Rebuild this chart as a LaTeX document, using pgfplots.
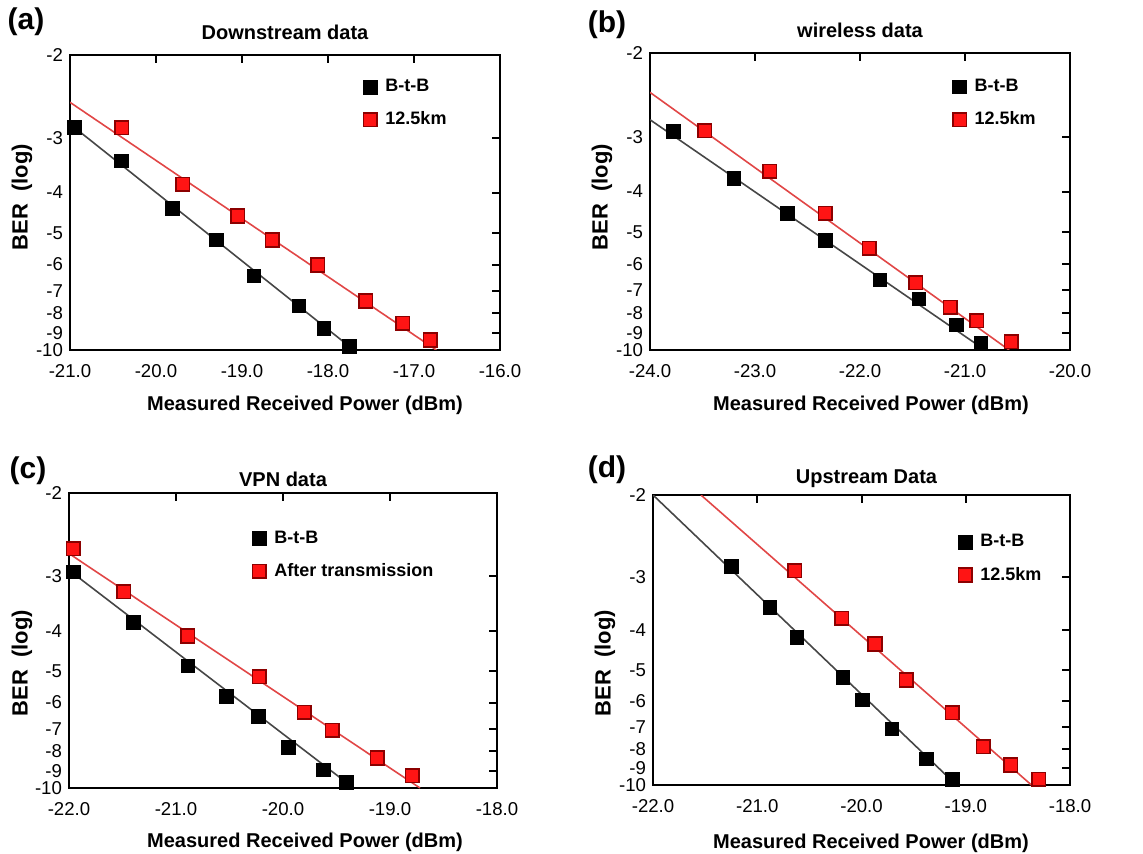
\documentclass[border=0pt]{standalone}
\usepackage{fontspec}
\setmainfont{Liberation Sans}
\usepackage{pgfplots}
\pgfplotsset{compat=1.18}
\definecolor{lred}{RGB}{225,70,70}
\definecolor{lgray}{RGB}{70,70,70}
\definecolor{mred}{RGB}{255,20,20}
\definecolor{dred}{RGB}{140,0,0}
\pgfplotsset{
 berax/.style={
  scale only axis,
  /pgf/number format/assume math mode=true,
  ymin=-16.071, ymax=-7.333,
  ytick={-16.071,-15.560,-14.982,-14.318,-13.540,-12.598,-11.409,-9.800,-7.333},
  yticklabels={-10,-9,-8,-7,-6,-5,-4,-3,-2},
  xtick distance=1,
  xticklabel style={/pgf/number format/.cd, fixed, fixed zerofill, precision=1, /tikz/yshift=-3.5pt},
  tick label style={font=\fontsize{9.3}{10}\selectfont},
  xtick pos=right, xticklabel pos=left, ytick pos=right, yticklabel pos=left,
  tick align=inside, major tick length=4pt,
  every tick/.style={black, line width=1pt},
  axis line style={line width=1.4pt},
  title style={font=\fontsize{10}{11}\selectfont\bfseries},
  xlabel style={font=\fontsize{10}{12}\selectfont\bfseries},
  ylabel style={font=\fontsize{11}{12}\selectfont\bfseries},
  legend style={draw=none, fill=none, inner sep=0pt, font=\fontsize{9}{10}\selectfont\bfseries, row sep=4.5pt, anchor=west},
  legend cell align=left,
  legend image code/.code={\draw[##1] plot coordinates {(0pt,0pt)}; \path[draw=none,fill=none] (0pt,0pt) -- (5.5pt,0pt);},
 },
 bk/.style={only marks, mark=square*, mark size=3.4pt, mark options={fill=black, draw=black}},
 rd/.style={only marks, mark=square*, mark size=3.4pt, mark options={fill=mred, draw=dred, line width=0.8pt}},
 bl/.style={lgray, line width=0.8pt, no marks, forget plot},
 rl/.style={lred, line width=0.8pt, no marks, forget plot},
}
\begin{document}
\begin{tikzpicture}
\useasboundingbox (0,0) rectangle (571.5pt,-427pt);
% (a)
\begin{axis}[berax, at={(35pt,-175pt)}, anchor=south west, width=215pt, height=147.5pt,
  xmin=-21, xmax=-16,
  title={Downstream data}, title style={at={(axis description cs:0.5,1)}, anchor=center, yshift=5.5pt},
  xlabel={Measured Received Power (dBm)}, xlabel style={at={([xshift=10pt,yshift=-27.5pt]axis description cs:0.5,0)}, anchor=center},
  ylabel={BER\ \ (log)}, ylabel style={at={([xshift=-24pt,yshift=2.75pt]axis description cs:0,0.5)}, anchor=center, rotate=0},
  legend style={at={(0.682,0.835)}}]
\addplot[bl] coordinates {(-21.0,-9.377) (-17.70,-16.071)};
\addplot[rl] coordinates {(-21.0,-8.735) (-16.74,-16.071)};
\addplot[bk] coordinates {(-20.95,-9.475) (-20.40,-10.473) (-19.81,-11.875) (-19.30,-12.813) (-18.86,-13.879) (-18.34,-14.768) (-18.05,-15.429) (-17.75,-15.972)};
\addlegendentry{B-t-B}
\addplot[rd] coordinates {(-20.40,-9.485) (-19.69,-11.164) (-19.05,-12.102) (-18.65,-12.813) (-18.12,-13.553) (-17.56,-14.620) (-17.13,-15.281) (-16.81,-15.775)};
\addlegendentry{12.5km}
\end{axis}
% (b)
\begin{axis}[berax, at={(325pt,-175pt)}, anchor=south west, width=210pt, height=148.5pt,
  xmin=-24, xmax=-20,
  title={wireless data}, title style={at={(axis description cs:0.5,1)}, anchor=center, yshift=5.5pt},
  xlabel={Measured Received Power (dBm)}, xlabel style={at={([xshift=5.5pt,yshift=-27.5pt]axis description cs:0.5,0)}, anchor=center},
  ylabel={BER\ \ (log)}, ylabel style={at={([xshift=-24pt,yshift=2.25pt]axis description cs:0,0.5)}, anchor=center, rotate=0},
  legend style={at={(0.72,0.830)}}]
\addplot[bl] coordinates {(-24.0,-9.297) (-20.81,-16.071)};
\addplot[rl] coordinates {(-24.0,-8.492) (-20.58,-16.071)};
\addplot[bk] coordinates {(-23.78,-9.640) (-23.20,-11.015) (-22.69,-12.046) (-22.33,-12.851) (-21.81,-14.009) (-21.44,-14.569) (-21.08,-15.335) (-20.85,-15.875)};
\addlegendentry{B-t-B}
\addplot[rd] coordinates {(-23.48,-9.621) (-22.86,-10.818) (-22.33,-12.046) (-21.91,-13.077) (-21.47,-14.088) (-21.14,-14.814) (-20.89,-15.207) (-20.56,-15.826)};
\addlegendentry{12.5km}
\end{axis}
% (c)
\begin{axis}[berax, at={(34.5pt,-394pt)}, anchor=south west, width=214pt, height=147.5pt,
  xmin=-22, xmax=-18,
  title={VPN data}, title style={at={(axis description cs:0.5,1)}, anchor=center, yshift=1pt},
  xlabel={Measured Received Power (dBm)}, xlabel style={at={([xshift=11pt,yshift=-27pt]axis description cs:0.5,0)}, anchor=center},
  ylabel={BER\ \ (log)}, ylabel style={at={([xshift=-23.5pt,yshift=-11.25pt]axis description cs:0,0.5)}, anchor=center, rotate=0},
  legend style={at={(0.428,0.790)}}]
\addplot[bl] coordinates {(-22.0,-9.619) (-19.34,-16.071)};
\addplot[rl] coordinates {(-22.0,-9.126) (-18.72,-16.071)};
\addplot[bk] coordinates {(-21.96,-9.668) (-21.40,-11.165) (-20.89,-12.456) (-20.53,-13.362) (-20.23,-13.953) (-19.95,-14.869) (-19.62,-15.529) (-19.41,-15.904)};
\addlegendentry{B-t-B}
\addplot[rd] coordinates {(-21.96,-8.978) (-21.49,-10.259) (-20.89,-11.569) (-20.22,-12.771) (-19.80,-13.825) (-19.54,-14.367) (-19.12,-15.184) (-18.79,-15.707)};
\addlegendentry{After transmission}
\end{axis}
% (d)
\begin{axis}[berax, at={(326.5pt,-392.5pt)}, anchor=south west, width=208.5pt, height=145pt,
  xmin=-22, xmax=-18,
  title={Upstream Data}, title style={at={([xshift=2.5pt]axis description cs:0.5,1)}, anchor=center, yshift=2pt},
  xlabel={Measured Received Power (dBm)}, xlabel style={at={([xshift=4.75pt,yshift=-29pt]axis description cs:0.5,0)}, anchor=center},
  ylabel={BER\ \ (log)}, ylabel style={at={([xshift=-24pt,yshift=-11.5pt]axis description cs:0,0.5)}, anchor=center, rotate=0},
  legend style={at={(0.732,0.780)}}]
\addplot[bl] coordinates {(-22.0,-7.333) (-19.09,-16.071)};
\addplot[rl] coordinates {(-21.54,-7.333) (-18.37,-16.071)};
\addplot[bk] coordinates {(-21.25,-9.492) (-20.88,-10.718) (-20.62,-11.632) (-20.18,-12.837) (-19.99,-13.510) (-19.71,-14.384) (-19.38,-15.288) (-19.13,-15.900)};
\addlegendentry{B-t-B}
\addplot[rd] coordinates {(-20.64,-9.613) (-20.19,-11.049) (-19.87,-11.823) (-19.57,-12.907) (-19.13,-13.892) (-18.83,-14.916) (-18.57,-15.468) (-18.30,-15.900)};
\addlegendentry{12.5km}
\end{axis}
\node[font=\fontsize{15}{16}\selectfont\bfseries] at (13pt,-11pt) {(a)};
\node[font=\fontsize{15}{16}\selectfont\bfseries] at (303.5pt,-12.5pt) {(b)};
\node[font=\fontsize{15}{16}\selectfont\bfseries] at (14pt,-235.5pt) {(c)};
\node[font=\fontsize{15}{16}\selectfont\bfseries] at (303.5pt,-235pt) {(d)};
\end{tikzpicture}
\end{document}
